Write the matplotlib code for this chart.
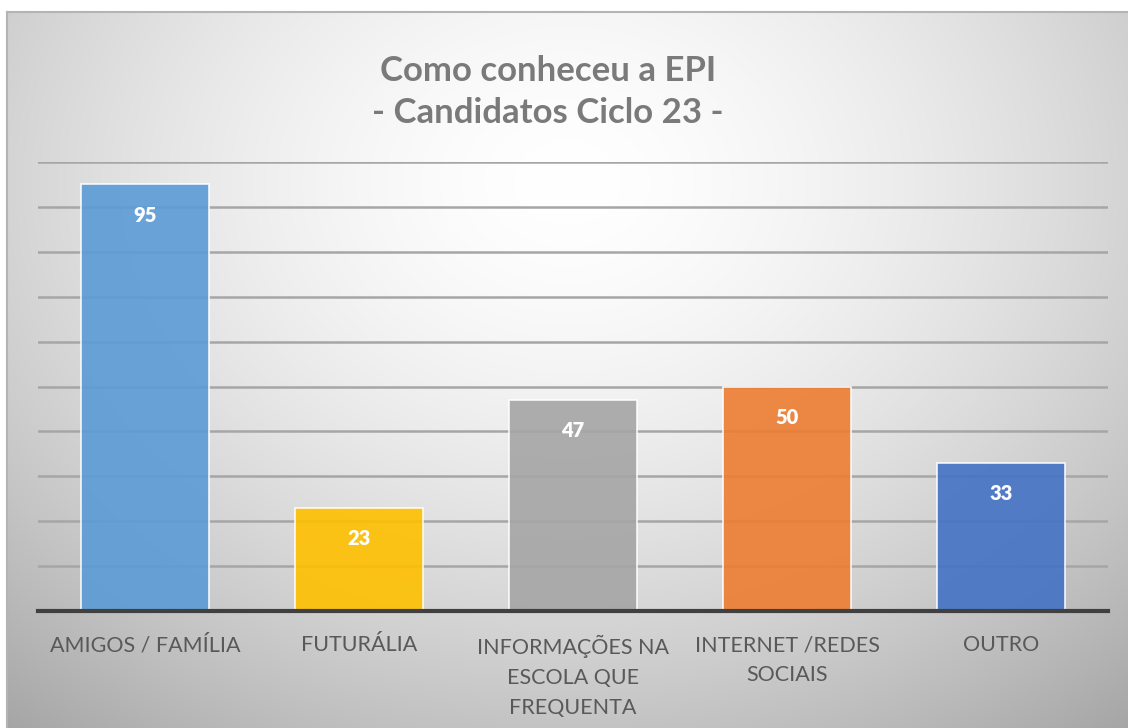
import matplotlib
matplotlib.use("Agg")
import matplotlib.pyplot as plt
import numpy as np

categories = ["AMIGOS / FAMÍLIA", "FUTURÁLIA", "INFORMAÇÕES NA\nESCOLA QUE\nFREQUENTA",
              "INTERNET /REDES\nSOCIAIS", "OUTRO"]
values = [95, 23, 47, 50, 33]
bar_colors = ["#5B9BD5", "#FFC000", "#A5A5A5", "#ED7D31", "#4472C4"]
title = "Como conheceu a EPI\n- Candidatos Ciclo 23 -"

plt.rcParams["font.family"] = ["Lato", "DejaVu Sans"]

W, H = 1128, 728
fig = plt.figure(figsize=(W / 100, H / 100), dpi=100)
fig.patch.set_facecolor("white")

# background box with radial gradient
bx0, by0 = 7, 12  # left, top (pixels)
bg = fig.add_axes([bx0 / W, 0, 1 - bx0 / W, 1 - by0 / H])
yy, xx = np.mgrid[0:H - by0, 0:W - bx0]
cx, cy = 560, 170
r = np.sqrt(((xx - cx) / 680.0) ** 2 + ((yy - cy) / 540.0) ** 2)
shade = 1.0 - 0.23 * np.clip(r, 0, 1.4) ** 1.6
img = np.dstack([shade, shade, shade])
bg.imshow(img, aspect="auto", interpolation="bilinear")
bg.set_xticks([])
bg.set_yticks([])
for side in ["right", "bottom"]:
    bg.spines[side].set_visible(False)
for side in ["top", "left"]:
    bg.spines[side].set_color("#b4b4b4")
    bg.spines[side].set_linewidth(1.5)

# plot area
px0, px1 = 38, 1108
py_base, py_top = 611, 162
ax = fig.add_axes([px0 / W, 1 - py_base / H, (px1 - px0) / W, (py_base - py_top) / H])
ax.patch.set_alpha(0)
x = np.arange(len(categories))
ax.bar(x, values, width=0.6, color=bar_colors, alpha=0.9,
       edgecolor="white", linewidth=1.2, zorder=3)
ax.set_xlim(-0.5, len(categories) - 0.5)
ax.set_ylim(0, 100)
ax.set_yticks(np.arange(10, 101, 10))
ax.yaxis.grid(True, color="#a6a6a6", linewidth=1.8, zorder=1)
ax.tick_params(axis="y", left=False, labelleft=False)
ax.tick_params(axis="x", bottom=False, pad=14)
ax.set_xticks(x)
ax.set_xticklabels(categories, fontsize=15.5, color="#595959", linespacing=1.6, va="top")
for side in ["top", "right", "left"]:
    ax.spines[side].set_visible(False)
ax.spines["bottom"].set_color("#404040")
ax.spines["bottom"].set_linewidth(3)
ax.spines["bottom"].set_zorder(4)

for xi, v in zip(x, values):
    ax.annotate(str(v), xy=(xi, v), xytext=(0, -22), textcoords="offset points",
                ha="center", va="center", color="white", fontsize=14.5,
                fontweight="heavy", zorder=5)

fig.text(548 / W, 1 - 92 / H, title, ha="center", va="center", fontsize=25,
         fontweight="bold", color="#7a7a7a", linespacing=1.35)

fig.savefig("out.png", dpi=100)
